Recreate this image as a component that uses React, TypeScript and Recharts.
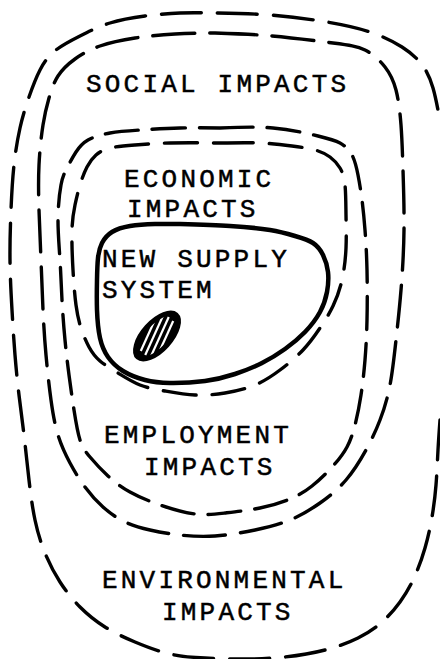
import React from 'react';
import { ComposedChart, Line, Scatter, XAxis, YAxis } from 'recharts';

// Diagram coordinates (x to the right, y downward), one list per loop.
// The outermost loop runs off the right edge of the page, so only its visible part is listed.
const outerLoop: [number, number][] = [
  [440, 420], [438, 450], [436, 485], [432, 517], [425, 548],
  [414, 578], [400, 602], [382, 622], [358, 638], [325, 650], [285, 657], [245, 659], [205, 658],
  [170, 654], [135, 642], [105, 627], [80, 607], [60, 582], [45, 553], [35, 520], [29, 480],
  [24, 435], [19, 395], [15, 355], [12, 310], [10, 260], [11, 210], [14, 165], [20, 128],
  [28, 100], [40, 70], [56, 50], [80, 36], [110, 23], [145, 16], [180, 13], [215, 13],
  [270, 15], [327, 22], [370, 32], [402, 47], [423, 66], [433, 88], [438, 110],
];

const socialInnerLoop: [number, number][] = [
  [215, 33], [272, 36], [333, 43], [365, 50], [385, 67], [396, 90], [401, 125], [403, 170],
  [404, 230], [401, 290], [396, 340], [390, 385], [380, 420], [366, 450], [346, 480], [320, 503],
  [290, 520], [255, 530], [215, 536], [180, 535], [150, 530], [125, 522], [103, 507], [85, 487],
  [70, 463], [58, 435], [51, 400], [46, 355], [43, 310], [41, 260], [39, 210], [39, 165],
  [43, 125], [49, 98], [58, 76], [75, 59], [100, 46], [135, 38], [175, 34], [215, 33],
];

const employmentLoop: [number, number][] = [
  [220, 128], [273, 128], [318, 136], [340, 143], [352, 155], [358, 175], [362, 200], [365, 230],
  [367, 270], [367, 320], [365, 360], [361, 395], [355, 425], [347, 447], [333, 466], [312, 486],
  [290, 499], [260, 508], [225, 513], [195, 514], [160, 505], [130, 492], [108, 476], [90, 457],
  [80, 440], [74, 410], [69, 375], [65, 340], [62, 300], [60, 260], [58, 220], [61, 185],
  [67, 168], [76, 152], [88, 140], [110, 133], [140, 130], [180, 128], [220, 128],
];

const economicLoop: [number, number][] = [
  [220, 143], [260, 143], [292, 146], [315, 150], [330, 157], [340, 168], [345, 185], [346, 215],
  [346, 248], [342, 280], [333, 306], [320, 328], [303, 350], [280, 370], [255, 385], [225, 393],
  [195, 395], [165, 391], [140, 385], [118, 373], [100, 361], [89, 347], [81, 328], [76, 305],
  [73, 270], [72, 230], [75, 205], [80, 185], [87, 167], [96, 155], [110, 148], [135, 145],
  [170, 143], [220, 143],
];

const supplyLoop: [number, number][] = [
  [180, 224], [230, 226], [270, 230], [295, 236], [313, 243], [323, 255], [328, 272], [327, 292],
  [320, 312], [305, 332], [285, 349], [262, 363], [235, 374], [205, 381], [170, 383], [145, 380],
  [123, 371], [108, 357], [100, 338], [97, 310], [97, 280], [98, 258], [102, 243], [112, 232],
  [130, 226], [155, 224], [180, 224],
];

const labelTexts = [
  'SOCIAL IMPACTS', 'ECONOMIC', 'IMPACTS', 'NEW SUPPLY', 'SYSTEM',
  'EMPLOYMENT', 'IMPACTS', 'ENVIRONMENTAL', 'IMPACTS',
];
const labelX = [86, 124, 127, 102, 102, 104, 144, 102, 162];
const labelY = [92, 187, 217, 267, 298, 443, 475, 588, 620];

const blobCenter = [{ x: 157, y: 336 }];

const toPts = (arr: [number, number][]) => arr.map(([x, y]) => ({ x, y }));
const labels = labelTexts.map((text, i) => ({ x: labelX[i], y: labelY[i], text }));

const FONT = "'Liberation Mono', 'DejaVu Sans Mono', monospace";

const LabelShape = (props: any) => {
  const { cx, cy, payload } = props;
  return (
    <text
      x={cx}
      y={cy}
      fontFamily={FONT}
      fontSize={26}
      letterSpacing={3.2}
      fill="#000"
      stroke="#000"
      strokeWidth={0.5}
    >
      {payload.text}
    </text>
  );
};

const BlobShape = (props: any) => {
  const { cx, cy } = props;
  return (
    <g transform={`translate(${cx},${cy}) rotate(-48)`}>
      <defs>
        <clipPath id="blob-clip">
          <ellipse cx={0} cy={0} rx={26} ry={11} />
        </clipPath>
      </defs>
      <ellipse cx={0} cy={0} rx={30} ry={15} fill="#000" stroke="#000" strokeWidth={2} />
      <g clipPath="url(#blob-clip)" stroke="#fff" strokeWidth={2.2}>
        {[-9, -3, 3, 9].map((o) => (
          <line key={o} x1={-22} y1={o + 7} x2={22} y2={o - 7} />
        ))}
      </g>
    </g>
  );
};

const dashed = {
  stroke: '#000',
  strokeWidth: 3.4,
  strokeLinecap: 'round' as const,
  dot: false,
  activeDot: false,
  isAnimationActive: false,
  type: 'natural' as const,
  dataKey: 'y',
};

export default function App() {
  return (
    <div
      style={{
        position: 'absolute',
        left: 0,
        top: 0,
        width: 440,
        height: 659,
        overflow: 'hidden',
        background: '#fff',
      }}
    >
      <ComposedChart width={440} height={659} margin={{ top: 0, right: 0, bottom: 0, left: 0 }}>
        <XAxis type="number" dataKey="x" domain={[0, 440]} hide allowDataOverflow />
        <YAxis type="number" dataKey="y" domain={[0, 659]} reversed hide allowDataOverflow />
        <Line {...dashed} data={toPts(outerLoop)} strokeDasharray="40 16" />
        <Line {...dashed} data={toPts(socialInnerLoop)} strokeDasharray="42 15" />
        <Line {...dashed} data={toPts(employmentLoop)} strokeDasharray="33 14" />
        <Line {...dashed} data={toPts(economicLoop)} strokeDasharray="33 16" />
        <Line {...dashed} data={toPts(supplyLoop)} strokeWidth={4.5} />
        <Scatter data={blobCenter} shape={BlobShape} isAnimationActive={false} />
        <Scatter data={labels} shape={LabelShape} isAnimationActive={false} />
      </ComposedChart>
    </div>
  );
}
